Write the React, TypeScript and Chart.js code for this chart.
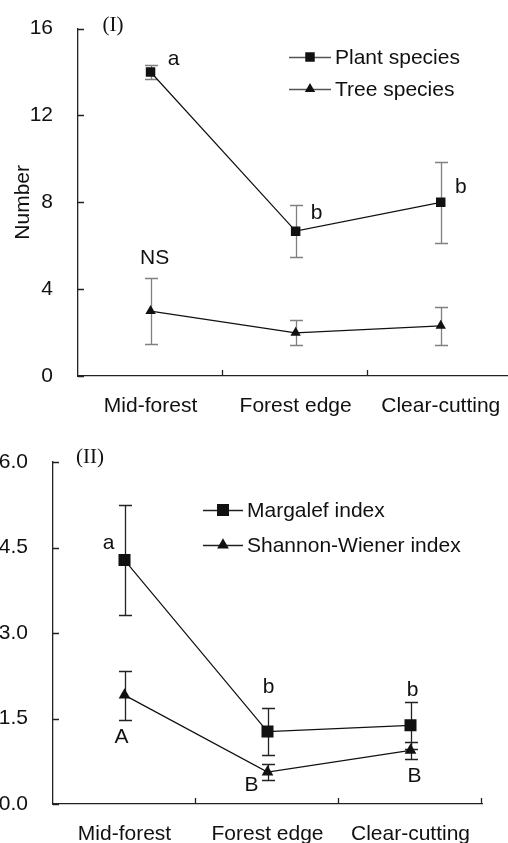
import React, { useEffect, useRef } from "react";
import { Chart, registerables } from "chart.js";

Chart.register(...registerables);

// ---------- data ----------
const categories = ["Mid-forest", "Forest edge", "Clear-cutting"];

const plantSpecies = [14.0, 6.67, 8.0];
const plantSpeciesErr = [0.33, 1.2, 1.86];
const plantLetters = ["a", "b", "b"];

const treeSpecies = [2.99, 1.99, 2.31];
const treeSpeciesErr = [1.53, 0.57, 0.88];
const treeLetters = ["NS", "", ""];

const margalef = [4.28, 1.27, 1.38];
const margalefErr = [0.97, 0.41, 0.41];
const margalefLetters = ["a", "b", "b"];

const shannon = [1.91, 0.56, 0.94];
const shannonErr = [0.43, 0.14, 0.15];
const shannonLetters = ["A", "B", "B"];

const yTicks1 = [0, 4, 8, 12, 16];
const yTicks2 = [0, 1.5, 3.0, 4.5, 6.0];

const FONT = "'Liberation Sans', Arial, sans-serif";
const INK = "#111";

type FigCfg = {
  errors: number[][];
  errorColor: string;
  cap: number;
  letters: string[][];
  letterOffsets: number[][][];
  legend: { x: number; y: number; gap: number; len: number; color: string; sizes: number[] };
  panel: { text: string; x: number; y: number };
  tickLen: number;
  fontSize: number;
};

function drawMarker(ctx: CanvasRenderingContext2D, style: string, x: number, y: number, r: number) {
  ctx.beginPath();
  if (style === "rect") {
    const s = Math.SQRT1_2 * r;
    ctx.rect(x - s, y - s, 2 * s, 2 * s);
  } else {
    let rad = 0;
    ctx.moveTo(x + Math.sin(rad) * r, y - Math.cos(rad) * r);
    rad += (2 * Math.PI) / 3;
    ctx.lineTo(x + Math.sin(rad) * r, y - Math.cos(rad) * r);
    rad += (2 * Math.PI) / 3;
    ctx.lineTo(x + Math.sin(rad) * r, y - Math.cos(rad) * r);
    ctx.closePath();
  }
  ctx.fill();
}

function figurePlugin(cfg: FigCfg) {
  return {
    id: "figure",
    beforeDatasetsDraw(chart: any) {
      const ctx = chart.ctx as CanvasRenderingContext2D;
      const ys = chart.scales.y;
      chart.data.datasets.forEach((ds: any, di: number) => {
        const meta = chart.getDatasetMeta(di);
        const errs = cfg.errors[di];
        ctx.save();
        ctx.strokeStyle = cfg.errorColor;
        ctx.lineWidth = 1.3;
        meta.data.forEach((pt: any, i: number) => {
          const v = ds.data[i];
          const e = errs[i];
          const top = Math.round(ys.getPixelForValue(v + e)) + 0.5;
          const bot = Math.round(ys.getPixelForValue(v - e)) + 0.5;
          const x = Math.round(pt.x) + 0.5;
          ctx.beginPath();
          ctx.moveTo(x, top);
          ctx.lineTo(x, bot);
          ctx.moveTo(x - cfg.cap, top);
          ctx.lineTo(x + cfg.cap, top);
          ctx.moveTo(x - cfg.cap, bot);
          ctx.lineTo(x + cfg.cap, bot);
          ctx.stroke();
        });
        ctx.restore();
      });
    },
    afterDraw(chart: any) {
      const ctx = chart.ctx as CanvasRenderingContext2D;
      const area = chart.chartArea;
      const xs = chart.scales.x;
      const ys = chart.scales.y;
      ctx.save();
      // inward ticks
      ctx.strokeStyle = "#222";
      ctx.lineWidth = 1.3;
      ctx.beginPath();
      ys.ticks.forEach((t: any) => {
        const py = Math.round(ys.getPixelForValue(t.value)) + 0.5;
        ctx.moveTo(area.left, py);
        ctx.lineTo(area.left + cfg.tickLen, py);
      });
      for (let i = 1; i <= categories.length; i++) {
        const px = Math.round(xs.getPixelForValue(i - 0.5)) - 0.5;
        ctx.moveTo(px, area.bottom);
        ctx.lineTo(px, area.bottom - cfg.tickLen);
      }
      ctx.stroke();

      // letters
      ctx.fillStyle = INK;
      ctx.font = `${cfg.fontSize}px ${FONT}`;
      ctx.textAlign = "center";
      ctx.textBaseline = "middle";
      chart.data.datasets.forEach((ds: any, di: number) => {
        const meta = chart.getDatasetMeta(di);
        meta.data.forEach((pt: any, i: number) => {
          const txt = cfg.letters[di][i];
          if (!txt) return;
          const off = cfg.letterOffsets[di][i];
          ctx.fillText(txt, pt.x + off[0], pt.y + off[1]);
        });
      });

      // legend
      const lg = cfg.legend;
      chart.data.datasets.forEach((ds: any, di: number) => {
        const y = lg.y + di * lg.gap;
        ctx.strokeStyle = lg.color;
        ctx.lineWidth = 1.3;
        ctx.beginPath();
        ctx.moveTo(lg.x, y + 0.5);
        ctx.lineTo(lg.x + lg.len, y + 0.5);
        ctx.stroke();
        ctx.fillStyle = INK;
        drawMarker(ctx, ds.pointStyle, lg.x + lg.len / 2, y, lg.sizes[di]);
        ctx.textAlign = "left";
        ctx.textBaseline = "middle";
        ctx.font = `${cfg.fontSize}px ${FONT}`;
        ctx.fillText(ds.label, lg.x + lg.len + 4, y + 1);
      });

      // panel label
      ctx.font = `21px 'Liberation Serif', serif`;
      ctx.textAlign = "center";
      ctx.textBaseline = "middle";
      ctx.fillText(cfg.panel.text, cfg.panel.x, cfg.panel.y);
      ctx.restore();
    },
  };
}

function makeConfig(opts: {
  series: { label: string; data: number[]; style: string; radius: number }[];
  yTicks: number[];
  decimals: number;
  yWidth: number;
  xHeight: number;
  padding: any;
  title?: string;
  fig: FigCfg;
}) {
  const fs = opts.fig.fontSize;
  return {
    type: "line" as const,
    data: {
      labels: categories,
      datasets: opts.series.map((s) => ({
        label: s.label,
        data: s.data,
        borderColor: INK,
        borderWidth: 1.2,
        pointStyle: s.style,
        pointRadius: s.radius,
        pointBackgroundColor: INK,
        pointBorderColor: INK,
        pointBorderWidth: 0,
        fill: false,
        tension: 0,
      })),
    },
    options: {
      responsive: false,
      animation: false as const,
      layout: { padding: opts.padding },
      plugins: {
        legend: { display: false },
        tooltip: { enabled: false },
      },
      scales: {
        x: {
          type: "category" as const,
          offset: true,
          grid: { display: false, drawTicks: false },
          border: { display: true, color: "#222", width: 1.3 },
          ticks: { color: INK, font: { size: fs, family: FONT }, padding: 18, maxRotation: 0, autoSkip: false },
          afterFit: (axis: any) => {
            axis.height = opts.xHeight;
          },
        },
        y: {
          type: "linear" as const,
          min: opts.yTicks[0],
          max: opts.yTicks[opts.yTicks.length - 1],
          grid: { display: false, drawTicks: false },
          border: { display: true, color: "#222", width: 1.3 },
          afterBuildTicks: (axis: any) => {
            axis.ticks = opts.yTicks.map((v) => ({ value: v }));
          },
          ticks: {
            color: INK,
            font: { size: fs, family: FONT },
            padding: 25,
            callback: (v: any) => Number(v).toFixed(opts.decimals),
          },
          title: opts.title
            ? { display: true, text: opts.title, color: INK, font: { size: fs, family: FONT }, padding: { top: 11, bottom: 0 } }
            : { display: false },
          afterFit: (axis: any) => {
            axis.width = opts.yWidth;
          },
        },
      },
    },
    plugins: [figurePlugin(opts.fig)],
  };
}

function ChartCanvas({ config, width, height, top }: { config: any; width: number; height: number; top: number }) {
  const ref = useRef<HTMLCanvasElement | null>(null);
  useEffect(() => {
    if (!ref.current) return;
    const chart = new Chart(ref.current, config);
    return () => chart.destroy();
  }, [config]);
  return (
    <canvas
      ref={ref}
      width={width}
      height={height}
      style={{ position: "absolute", left: 0, top, width, height, display: "block" }}
    />
  );
}

const config1 = makeConfig({
  series: [
    { label: "Plant species", data: plantSpecies, style: "rect", radius: 6.7 },
    { label: "Tree species", data: treeSpecies, style: "triangle", radius: 6 },
  ],
  yTicks: yTicks1,
  decimals: 0,
  yWidth: 78,
  xHeight: 44,
  padding: { left: 0, top: 37, right: 4, bottom: 0 },
  title: "Number",
  fig: {
    errors: [plantSpeciesErr, treeSpeciesErr],
    errorColor: "#808080",
    cap: 6.5,
    letters: [plantLetters, treeLetters],
    letterOffsets: [
      [[23, -13], [21, -18], [20, -15]],
      [[4, -53], [0, 0], [0, 0]],
    ],
    legend: { x: 289, y: 66, gap: 32, len: 42, color: "#555", sizes: [6.7, 6] },
    panel: { text: "(I)", x: 113, y: 34 },
    tickLen: 6,
    fontSize: 21,
  },
});

const config2 = makeConfig({
  series: [
    { label: "Margalef index", data: margalef, style: "rect", radius: 8.5 },
    { label: "Shannon-Wiener index", data: shannon, style: "triangle", radius: 6.8 },
  ],
  yTicks: yTicks2,
  decimals: 1,
  yWidth: 53,
  xHeight: 39,
  padding: { left: 0, top: 42, right: 26, bottom: 0 },
  fig: {
    errors: [margalefErr, shannonErr],
    errorColor: "#222",
    cap: 6.5,
    letters: [margalefLetters, shannonLetters],
    letterOffsets: [
      [[-16, -17], [1, -44], [2, -35]],
      [[-3, 42], [-16, 13], [4, 26]],
    ],
    legend: { x: 203, y: 90, gap: 35, len: 40, color: "#222", sizes: [8.5, 6.8] },
    panel: { text: "(II)", x: 90, y: 37 },
    tickLen: 6,
    fontSize: 21,
  },
});

export default function App() {
  return (
    <div
      style={{
        position: "absolute",
        left: 0,
        top: 0,
        width: 508,
        height: 843,
        overflow: "hidden",
        background: "#fff",
      }}
    >
      <ChartCanvas config={config1} width={520} height={429} top={-9} />
      <ChartCanvas config={config2} width={508} height={423} top={420} />
    </div>
  );
}
